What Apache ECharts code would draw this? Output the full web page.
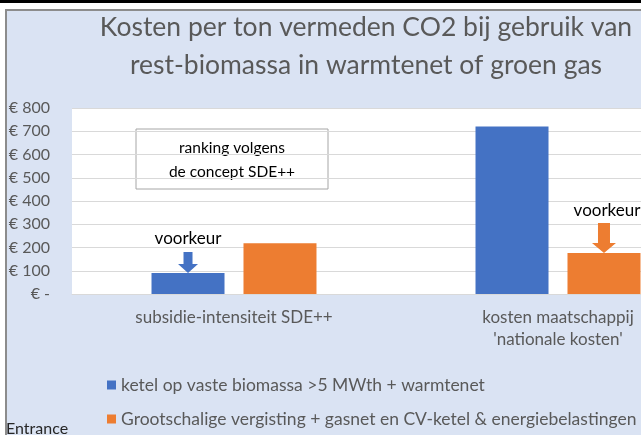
<!DOCTYPE html>
<html>
<head>
<meta charset="utf-8">
<script src="https://cdn.jsdelivr.net/npm/echarts@6/dist/echarts.min.js"></script>
<style>
  html, body { margin: 0; padding: 0; background: #fff; }
  #chart { width: 641px; height: 435px; }
</style>
</head>
<body>
<div id="chart"></div>
<script>
  const categories = ['subsidie-intensiteit SDE++', "kosten maatschappij\n'nationale kosten'"];
  const seriesNames = ['ketel op vaste biomassa >5 MWth + warmtenet', 'Grootschalige vergisting + gasnet en CV-ketel & energiebelastingen'];
  const ketelValues = [90, 720];
  const vergistingValues = [218, 176];
  const yTicks = [0, 100, 200, 300, 400, 500, 600, 700, 800];

  const font = 'Lato, "Open Sans", sans-serif';
  const textGrey = '#595959';

  const chart = echarts.init(document.getElementById('chart'));

  const option = {
    backgroundColor: '#ffffff',
    textStyle: { fontFamily: font },
    animation: false,
    graphic: [
      { type: 'rect', shape: { x: 0, y: 0, width: 641, height: 3 }, style: { fill: '#000' }, z: -10 },
      { type: 'rect', shape: { x: 5, y: 9, width: 636, height: 426 }, style: { fill: '#8c8c8c' }, z: -10 },
      { type: 'rect', shape: { x: 7, y: 11, width: 634, height: 424 }, style: { fill: '#dae3f3' }, z: -9 },
      {
        type: 'text', x: 366, y: 8, z: 10,
        style: {
          text: 'Kosten per ton vermeden CO2 bij gebruik van\nrest-biomassa in warmtenet of groen gas',
          align: 'center', verticalAlign: 'top', fill: textGrey, font: '26.5px ' + font, lineHeight: 38
        }
      },
      {
        type: 'group', x: 136, y: 129, z: 10,
        children: [
          { type: 'rect', shape: { x: 0, y: 0, width: 192, height: 60 }, style: { fill: '#fff', stroke: '#a6a6a6', lineWidth: 1 } },
          {
            type: 'text', x: 96, y: 31,
            style: {
              text: 'ranking volgens\nde concept SDE++', align: 'center', verticalAlign: 'middle',
              fill: '#000', font: '15.5px ' + font, lineHeight: 24
            }
          }
        ]
      },
      {
        type: 'text', x: 6, y: 421, z: 10,
        style: { text: 'Entrance', fill: '#262626', font: '16px ' + font }
      }
    ],
    grid: {
      left: 72, top: 108, right: -79, bottom: 141,
      containLabel: false, outerBoundsMode: 'none',
      show: true, backgroundColor: '#fff', borderWidth: 0
    },
    legend: {
      orient: 'vertical', left: 102, top: 371,
      itemWidth: 9, itemHeight: 9, itemGap: 16, icon: 'rect',
      textStyle: { color: textGrey, fontSize: 17.5, fontFamily: font },
      data: seriesNames
    },
    xAxis: {
      type: 'category', data: categories,
      axisLine: { show: true, lineStyle: { color: '#d9d9d9' } },
      axisTick: { show: false },
      axisLabel: { color: textGrey, fontSize: 17, margin: 13, lineHeight: 22, interval: 0 }
    },
    yAxis: {
      type: 'value', min: yTicks[0], max: yTicks[yTicks.length - 1], interval: 100,
      axisLine: { show: false }, axisTick: { show: false },
      splitLine: { lineStyle: { color: '#d9d9d9' } },
      axisLabel: {
        color: textGrey, fontSize: 16, margin: 22,
        formatter: v => v === 0 ? '€ -' : '€ ' + v
      }
    },
    series: [
      {
        name: seriesNames[0], type: 'bar', data: ketelValues,
        barWidth: 73, barGap: '26%',
        itemStyle: { color: '#4472c4' },
        markPoint: {
          symbol: 'path://M5.5,0 L14.5,0 L14.5,12 L20,12 L10,21 L0,12 L5.5,12 Z',
          symbolSize: [20, 21], symbolKeepAspect: false, symbolOffset: [0, '-50%'],
          itemStyle: { color: '#4472c4' },
          label: { show: true, position: 'top', distance: 5, formatter: 'voorkeur', color: '#000', fontSize: 17, fontFamily: font },
          data: [{ coord: [0, ketelValues[0]] }]
        }
      },
      {
        name: seriesNames[1], type: 'bar', data: vergistingValues,
        barWidth: 73,
        itemStyle: { color: '#ed7d31' },
        markPoint: {
          symbol: 'path://M6,0 L18,0 L18,20 L24,20 L12,30 L0,20 L6,20 Z',
          symbolSize: [24, 30], symbolKeepAspect: false, symbolOffset: [0, '-50%'],
          itemStyle: { color: '#ed7d31' },
          label: { show: true, position: 'top', distance: 4, offset: [3, 0], formatter: 'voorkeur', color: '#000', fontSize: 17, fontFamily: font },
          data: [{ coord: [1, vergistingValues[1]] }]
        }
      }
    ]
  };

  chart.setOption(option);
</script>
</body>
</html>
